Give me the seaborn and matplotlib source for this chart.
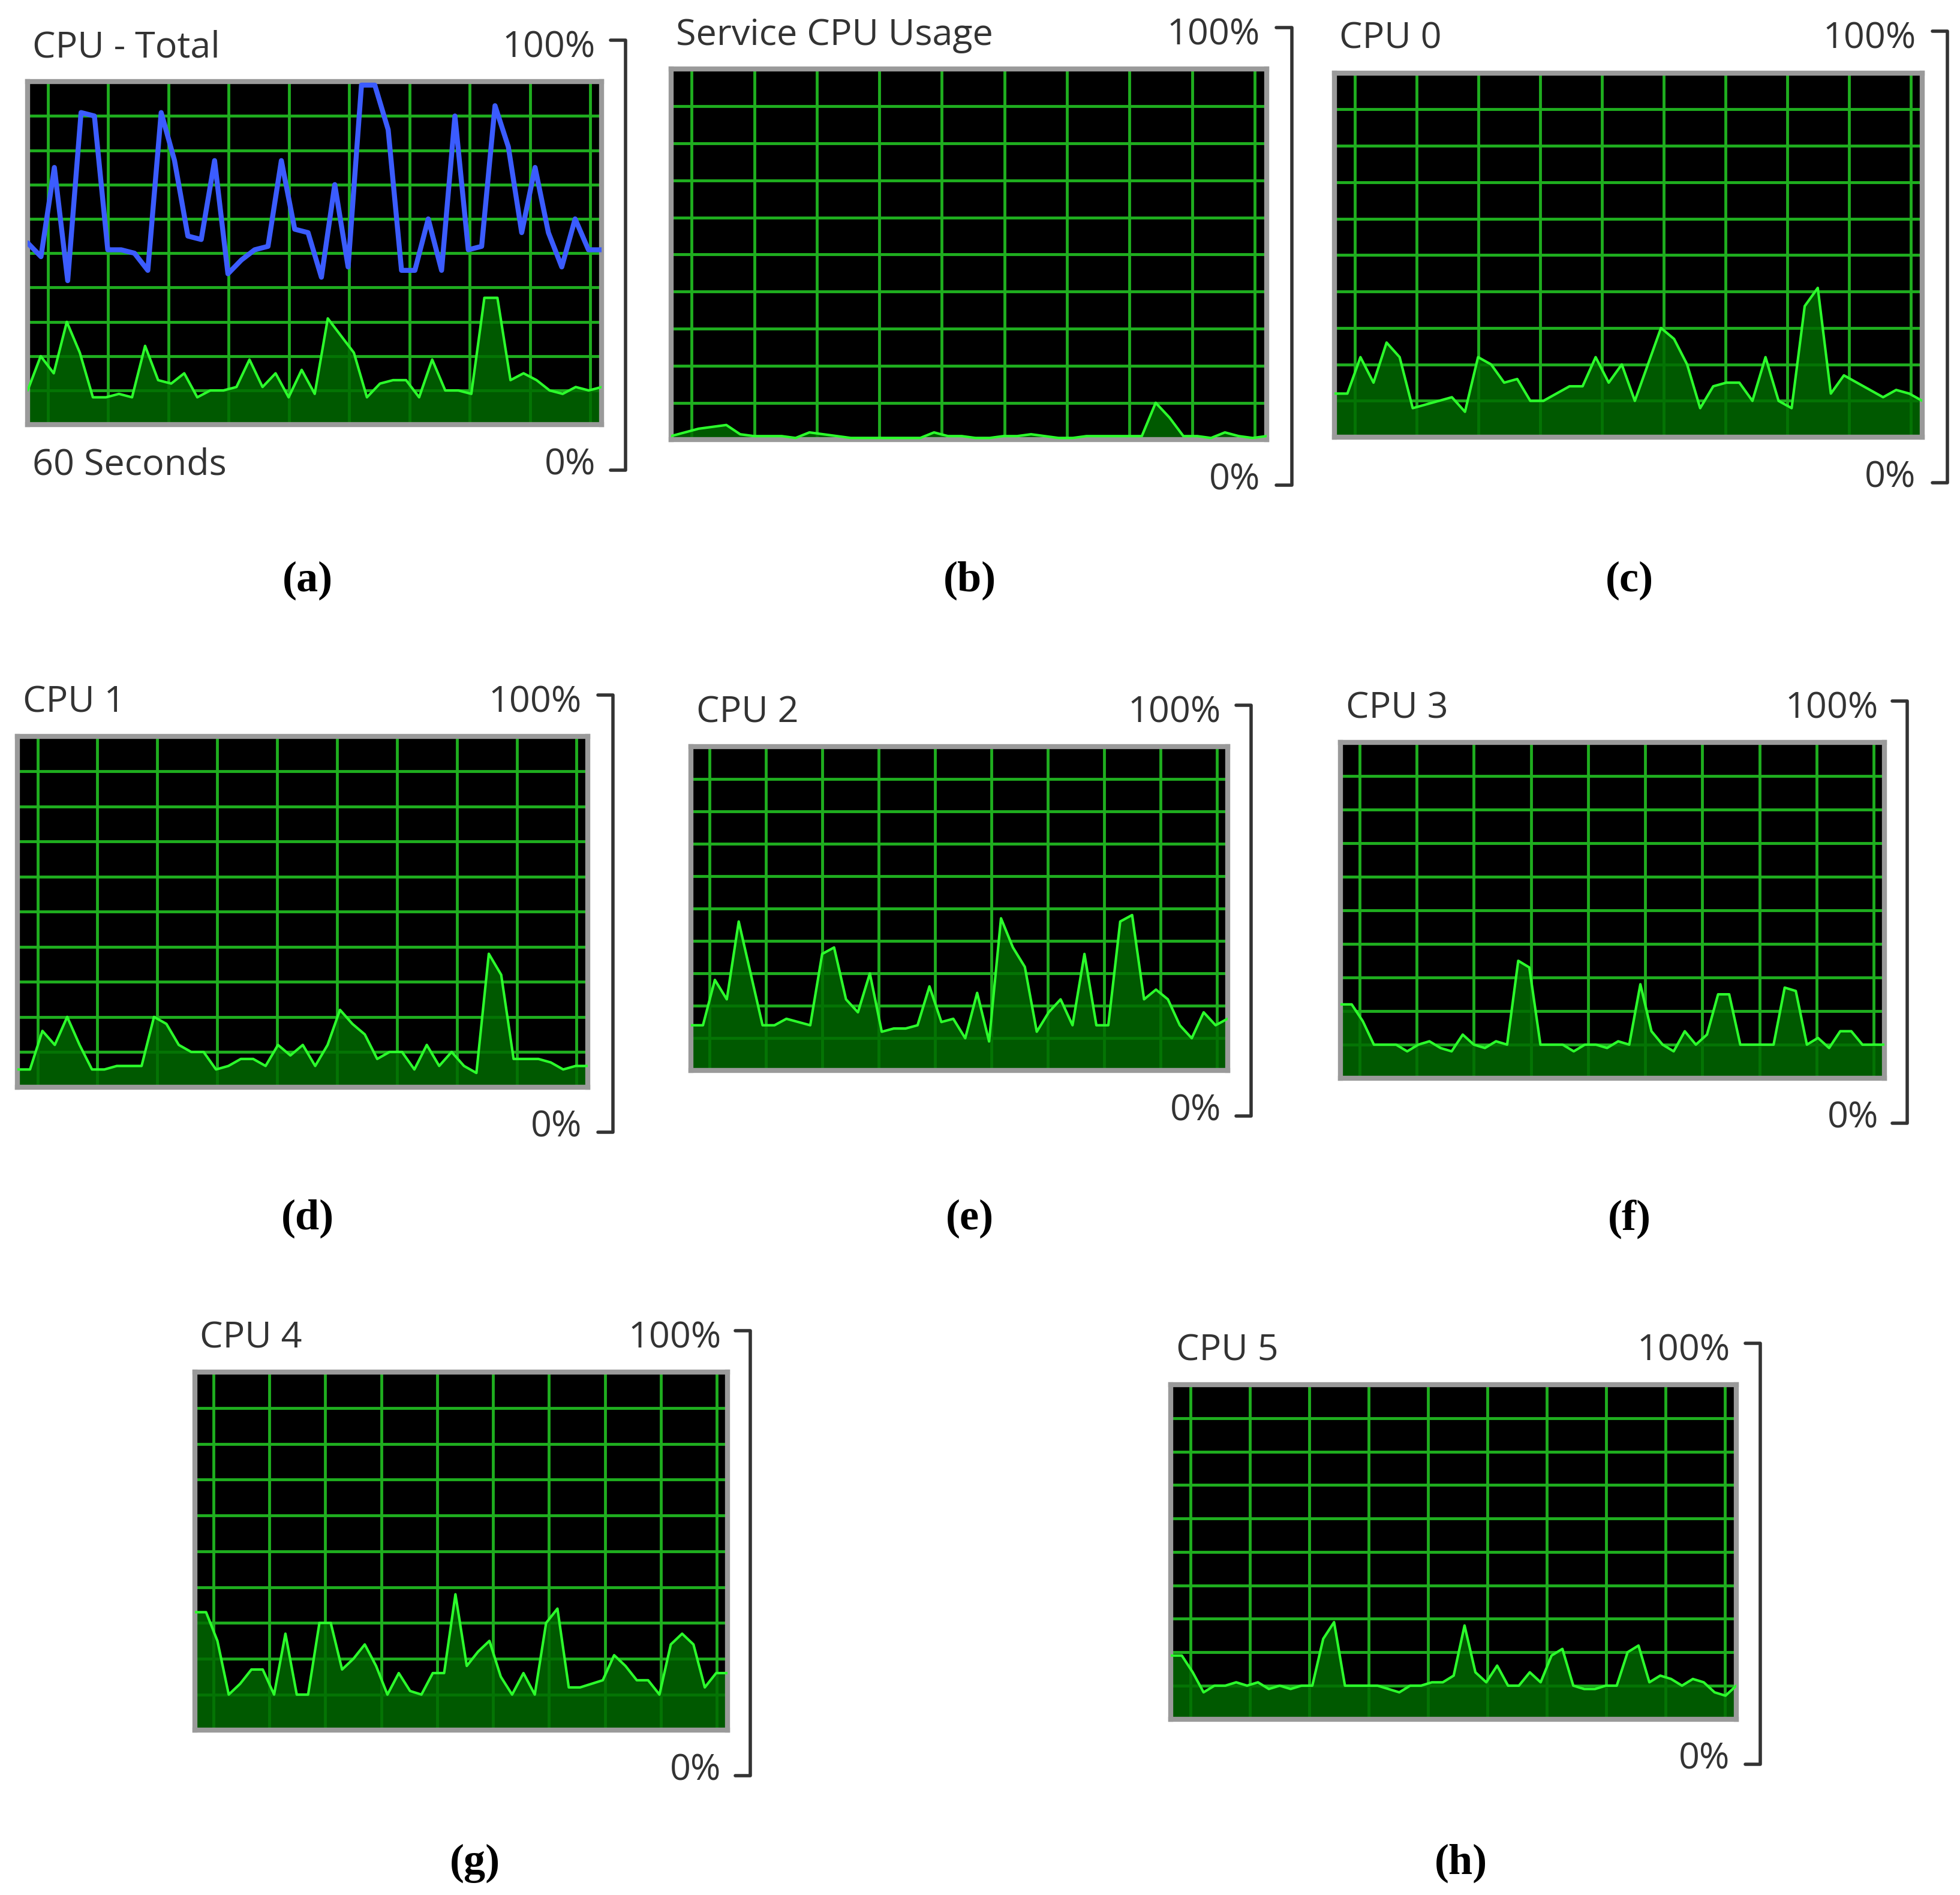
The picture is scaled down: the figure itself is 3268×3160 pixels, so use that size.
import numpy as np
import pandas as pd
import matplotlib.pyplot as plt
import seaborn as sns

# CPU usage readings (%)
total_blue = [53, 49, 75, 42, 91, 90, 51, 51, 50, 45, 91, 77, 55, 54, 77, 44, 48, 51, 52, 77, 57, 56,
              43, 70, 46, 99, 99, 86, 45, 45, 60, 45, 90, 51, 52, 93, 81, 56, 75, 56, 46, 60, 51, 51]
total_green = [10, 20, 15, 30, 21, 8, 8, 9, 8, 23, 13, 12, 15, 8, 10, 10, 11, 19, 11, 15, 8, 16, 9,
               31, 26, 21, 8, 12, 13, 13, 8, 19, 10, 10, 9, 37, 37, 13, 15, 13, 10, 9, 11, 10, 11]
service = [1, 2, 3, 3.5, 4, 1.5, 1, 1, 1, 0.5, 2, 1.5, 1, 0.5, 0.5, 0.5, 0.5, 0.5, 0.5, 2, 1, 1, 0.5,
           0.5, 1, 1, 1.5, 1, 0.5, 0.5, 1, 1, 1, 1, 1, 10, 6, 1, 1, 0.5, 2, 1, 0.5, 1]
cpu0 = [12, 12, 22, 15, 26, 22, 8, 9, 10, 11, 7, 22, 20, 15, 16, 10, 10, 12, 14, 14, 22, 15, 20, 10,
        20, 30, 27, 20, 8, 14, 15, 15, 10, 22, 10, 8, 36, 41, 12, 17, 15, 13, 11, 13, 12, 10]
cpu1 = [5, 5, 16, 12, 20, 12, 5, 5, 6, 6, 6, 20, 18, 12, 10, 10, 5, 6, 8, 8, 6, 12, 9, 12, 6, 12, 22,
        18, 15, 8, 10, 10, 5, 12, 6, 10, 6, 4, 38, 32, 8, 8, 8, 7, 5, 6, 6]
cpu2 = [14, 14, 28, 22, 46, 30, 14, 14, 16, 15, 14, 36, 38, 22, 18, 30, 12, 13, 13, 14, 26, 15, 16,
        10, 24, 9, 47, 38, 32, 12, 18, 22, 14, 36, 14, 14, 46, 48, 22, 25, 22, 14, 10, 18, 14, 16]
cpu3 = [22, 22, 17, 10, 10, 10, 8, 10, 11, 9, 8, 13, 10, 9, 11, 10, 35, 33, 10, 10, 10, 8, 10, 10, 9,
        11, 10, 28, 14, 10, 8, 14, 10, 13, 25, 25, 10, 10, 10, 10, 27, 26, 10, 12, 9, 14, 14, 10, 10, 10]
cpu4 = [33, 33, 25, 10, 13, 17, 17, 10, 27, 10, 10, 30, 30, 17, 20, 24, 18, 10, 16, 11, 10, 16, 16,
        38, 18, 22, 25, 15, 10, 16, 10, 30, 34, 12, 12, 13, 14, 21, 18, 14, 14, 10, 24, 27, 24, 12, 16, 16]
cpu5 = [19, 19, 14, 8, 10, 10, 11, 10, 11, 9, 10, 9, 10, 10, 24, 29, 10, 10, 10, 10, 9, 8, 10, 10, 11,
        11, 13, 28, 14, 11, 16, 10, 10, 14, 11, 19, 21, 10, 9, 9, 10, 10, 20, 22, 11, 13, 12, 10, 12, 11,
        8, 7, 10]

titles = ["CPU - Total", "Service CPU Usage", "CPU 0", "CPU 1", "CPU 2", "CPU 3", "CPU 4", "CPU 5"]
letters = ["(a)", "(b)", "(c)", "(d)", "(e)", "(f)", "(g)", "(h)"]
green_series = [total_green, service, cpu0, cpu1, cpu2, cpu3, cpu4, cpu5]

# panel boxes in reference pixel coords (1560 x 1508 preview): x0, x1, y0, y1, bracket x
boxes = [(22, 479, 65, 338, 498), (534, 1008, 55, 350, 1028), (1062, 1530, 58, 348, 1550),
         (14, 468, 586, 865, 488), (550, 977, 594, 852, 996), (1067, 1500, 591, 858, 1518),
         (155, 579, 1092, 1377, 597), (932, 1382, 1102, 1368, 1401)]
letter_pos = [(245, 462), (772, 462), (1297, 462), (245, 970), (772, 970), (1297, 970),
              (378, 1483), (1163, 1483)]

W, H = 1560.0, 1508.0
sns.set_theme(style="white")
plt.rcParams['font.family'] = ['Open Sans', 'DejaVu Sans']
fig = plt.figure(figsize=(32.68, 31.6), dpi=100)
fig.patch.set_facecolor("white")

grid_col = "#1fae1f"
line_col = "#2cff2c"
fill_col = "#006a00"

for i, (x0, x1, y0, y1, bx) in enumerate(boxes):
    ax = fig.add_axes([x0 / W, 1 - y1 / H, (x1 - x0) / W, (y1 - y0) / H])
    ax.set_facecolor("black")
    vals = green_series[i]
    df = pd.DataFrame({"t": np.arange(len(vals)), "v": vals})
    n = len(vals) - 1
    ax.set_xlim(0, n)
    ax.set_ylim(0, 100)
    for yy in range(10, 100, 10):
        ax.axhline(yy, color=grid_col, lw=3.5, zorder=1)
    for k in range(10):
        ax.axvline(n * (0.035 + k * 0.105), color=grid_col, lw=3.5, zorder=1)
    ax.fill_between(df["t"], df["v"], color=fill_col, alpha=0.85, zorder=2)
    sns.lineplot(data=df, x="t", y="v", ax=ax, color=line_col, lw=3, zorder=3)
    if i == 0:
        df2 = pd.DataFrame({"t": np.linspace(0, n, len(total_blue)), "v": total_blue})
        sns.lineplot(data=df2, x="t", y="v", ax=ax, color="#3b5cff", lw=6, zorder=4)
    ax.set_xticks([])
    ax.set_yticks([])
    ax.set_xlabel("")
    ax.set_ylabel("")
    for s in ax.spines.values():
        s.set_color("#9a9a9a")
        s.set_linewidth(6)

    ty = y0 - 27
    fig.text((x0 + 4) / W, 1 - ty / H, titles[i], fontsize=44, color="#333333", va="center", ha="left")
    fig.text((x1 - 5) / W, 1 - ty / H, "100%", fontsize=44, color="#333333", va="center", ha="right")
    zy = y1 + 32
    fig.text((x1 - 5) / W, 1 - zy / H, "0%", fontsize=44, color="#333333", va="center", ha="right")
    if i == 0:
        fig.text((x0 + 4) / W, 1 - zy / H, "60 Seconds", fontsize=44, color="#333333", va="center", ha="left")
    # bracket on the right
    bt, bb = ty - 6, zy + 4
    fig.add_artist(plt.Line2D([(bx - 12) / W, bx / W, bx / W, (bx - 12) / W],
                              [1 - bt / H, 1 - bt / H, 1 - bb / H, 1 - bb / H],
                              color="#333333", lw=4))
    lx, ly = letter_pos[i]
    fig.text(lx / W, 1 - ly / H, letters[i], fontsize=52, color="black", ha="center", va="center",
             family=["Liberation Serif", "DejaVu Serif"], fontweight="bold")

fig.savefig("out.png", dpi=100, facecolor="white")
